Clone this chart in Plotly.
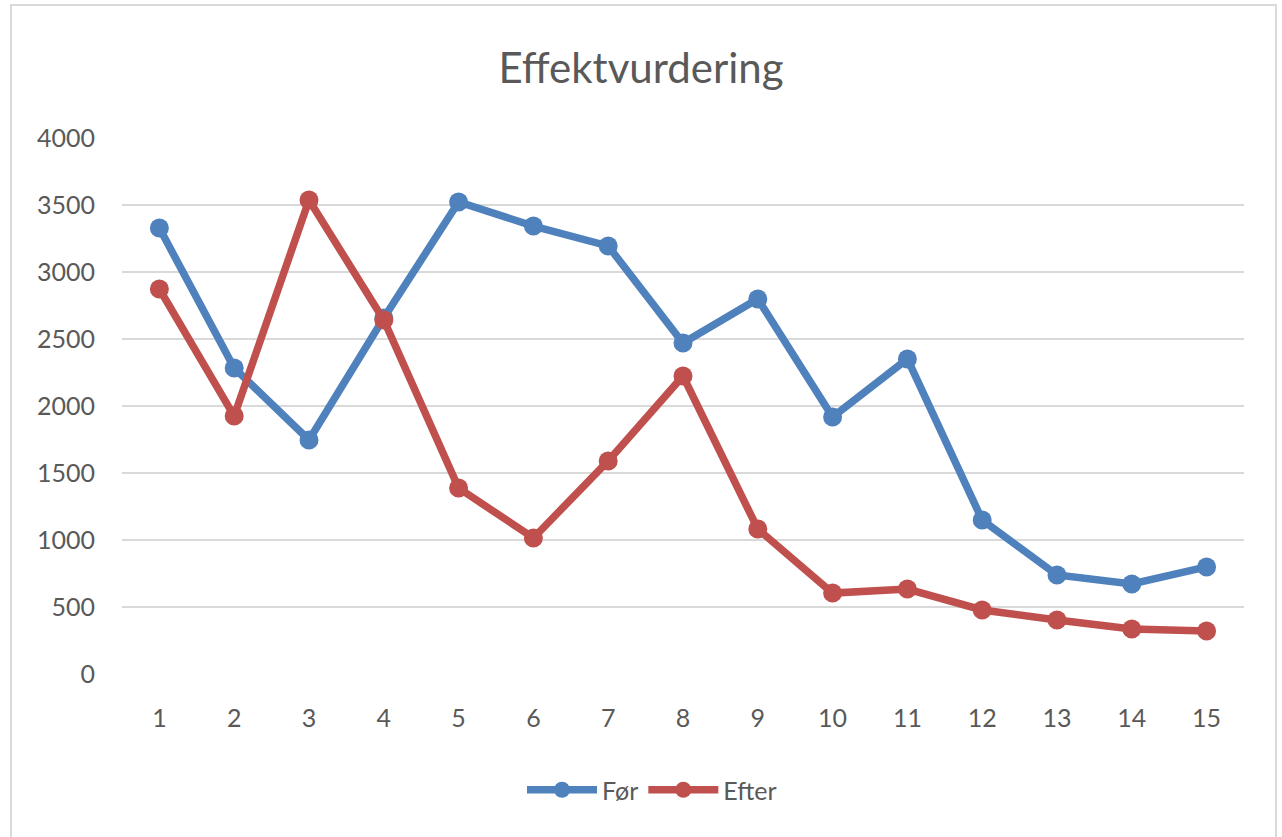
import plotly.graph_objects as go

categories = list(range(1, 16))
foer = [3328, 2284, 1746, 2657, 3522, 3343, 3194, 2470, 2799, 1918, 2351, 1149, 739, 672, 799]
efter = [2873, 1925, 3537, 2642, 1388, 1015, 1590, 2224, 1082, 604, 634, 478, 403, 336, 321]
series_names = ["Før", "Efter"]
y_ticks = [0, 500, 1000, 1500, 2000, 2500, 3000, 3500, 4000]

BLUE = "#4F81BD"
RED = "#C0504D"
TEXT = "#595959"
FONT = "Lato, 'Open Sans', sans-serif"

fig = go.Figure()
for name, vals, col in [(series_names[0], foer, BLUE), (series_names[1], efter, RED)]:
    fig.add_trace(go.Scatter(
        x=categories, y=vals, name=name, mode="lines+markers",
        line=dict(color=col, width=7.5),
        marker=dict(color=col, size=19),
    ))

W, H = 1282, 837
L, R, T, B = 122, 38, 138, 163
pw, ph = W - L - R, H - T - B

fig.update_layout(
    width=W, height=H,
    margin=dict(l=L, r=R, t=T, b=B),
    paper_bgcolor="white", plot_bgcolor="white",
    font=dict(family=FONT, color=TEXT, size=25),
    title=dict(text="Effektvurdering", x=0.5, xanchor="center",
               y=1 - 68 / H, yanchor="middle",
               font=dict(family=FONT, size=42, color=TEXT)),
    showlegend=True,
    legend=dict(orientation="h", x=(652 - L) / pw, xanchor="center",
                y=(ph - (790 - T)) / ph, yanchor="middle",
                font=dict(size=25, color=TEXT), itemwidth=70,
                bgcolor="rgba(0,0,0,0)"),
    xaxis=dict(range=[0.5, 15.5], tickmode="array", tickvals=categories,
               ticktext=[str(c) for c in categories],
               showgrid=False, zeroline=False, showline=False, ticks="",
               ticklabelstandoff=27, fixedrange=True),
    yaxis=dict(range=[0, 4000], tickmode="array", tickvals=y_ticks,
               ticktext=[str(v) for v in y_ticks],
               showgrid=True, gridcolor="#D9D9D9", gridwidth=2,
               zeroline=False, showline=False, ticks="",
               ticklabelstandoff=26, fixedrange=True),
)

# outer chart border (Excel-style chart area)
fig.add_shape(type="rect", xref="paper", yref="paper",
              x0=(11 - L) / pw, x1=(1276 - L) / pw,
              y0=(ph - (850 - T)) / ph, y1=(ph - (5 - T)) / ph,
              line=dict(color="#D9D9D9", width=2), fillcolor="rgba(0,0,0,0)",
              layer="below")

fig.write_html("out.html", config={"displayModeBar": False},
               post_script="document.body.style.margin='0';document.body.style.overflow='hidden';")
